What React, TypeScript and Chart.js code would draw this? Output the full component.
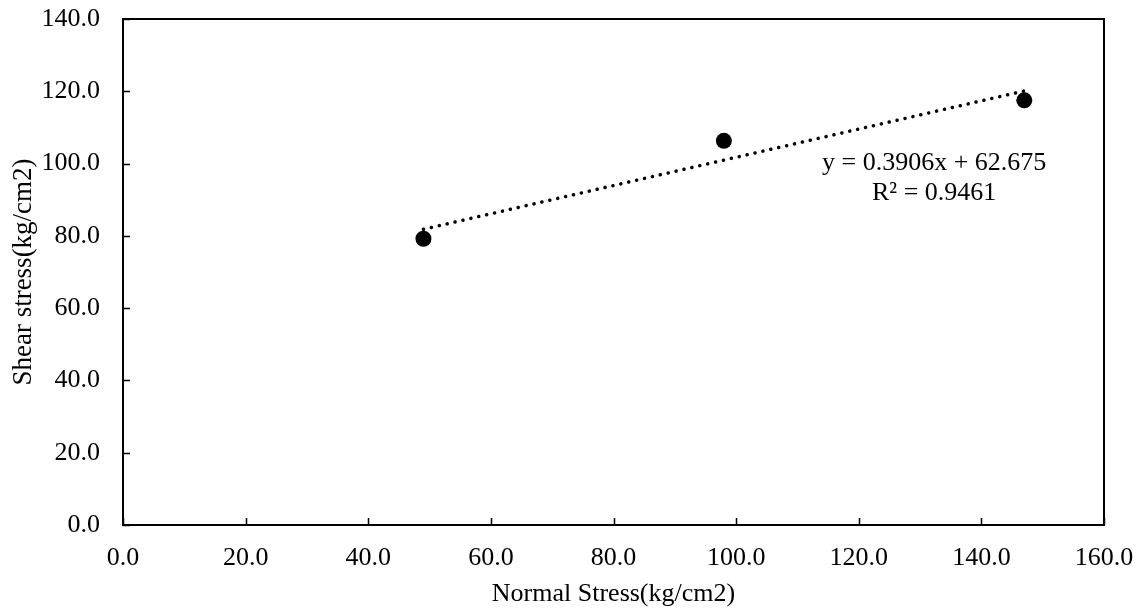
import React, { useEffect, useRef } from 'react';
import { Chart, registerables } from 'chart.js';

Chart.register(...registerables);

// Data
const normalStress = [49.0, 98.0, 147.0];
const shearStress = [79.2, 106.3, 117.5];

// Linear trendline shown in the chart
const trendSlope = 0.3906;
const trendIntercept = 62.675;
const trendXs = [49.0, 147.0];
const equationLines = ['y = 0.3906x + 62.675', 'R² = 0.9461'];

// Axis settings
const xMin = 0;
const xMax = 160;
const xStep = 20;
const yMin = 0;
const yMax = 140;
const yStep = 20;
const xTitle = 'Normal Stress(kg/cm2)';
const yTitle = 'Shear stress(kg/cm2)';

const FONT = '"Liberation Serif", "Times New Roman", serif';

const framePlugin = {
  id: 'frame',
  afterDraw(chart: any) {
    const { ctx, chartArea: a, scales } = chart;
    const x = scales.x;
    const y = scales.y;
    ctx.save();
    ctx.strokeStyle = '#000';
    ctx.lineWidth = 1.5;
    ctx.beginPath();
    x.ticks.forEach((t: any) => {
      const px = Math.round(x.getPixelForValue(t.value)) + 0.5;
      ctx.moveTo(px, a.bottom);
      ctx.lineTo(px, a.bottom - 7);
    });
    y.ticks.forEach((t: any) => {
      const py = Math.round(y.getPixelForValue(t.value)) + 0.5;
      ctx.moveTo(a.left, py);
      ctx.lineTo(a.left + 7, py);
    });
    ctx.stroke();
    ctx.lineWidth = 2;
    ctx.strokeRect(a.left, a.top, a.right - a.left, a.bottom - a.top);

    // trendline equation label
    ctx.fillStyle = '#000';
    ctx.font = `26px ${FONT}`;
    ctx.textAlign = 'center';
    ctx.textBaseline = 'alphabetic';
    const ex = x.getPixelForValue(132.3);
    const ey = y.getPixelForValue(98.2);
    equationLines.forEach((line, i) => {
      ctx.fillText(line, ex, ey + i * 30);
    });
    ctx.restore();
  },
};

export default function App() {
  const ref = useRef<HTMLCanvasElement | null>(null);

  useEffect(() => {
    document.body.style.margin = '0';
    const canvas = ref.current;
    if (!canvas) return;

    const points = normalStress.map((v, i) => ({ x: v, y: shearStress[i] }));
    const trend = trendXs.map((v) => ({ x: v, y: trendSlope * v + trendIntercept }));

    const chart = new Chart(canvas, {
      type: 'scatter',
      data: {
        datasets: [
          {
            label: 'Shear stress',
            data: points,
            backgroundColor: '#000',
            borderColor: '#000',
            pointRadius: 8,
            pointHoverRadius: 8,
            borderWidth: 0,
          },
          {
            label: 'Linear trend',
            data: trend,
            showLine: true,
            pointRadius: 0,
            borderColor: '#000',
            borderWidth: 3.5,
            borderDash: [0.1, 8],
            borderCapStyle: 'round',
            fill: false,
          },
        ],
      },
      options: {
        responsive: false,
        animation: false,
        layout: { padding: { top: 19, right: 42, left: 0, bottom: 0 } },
        plugins: {
          legend: { display: false },
          tooltip: { enabled: false },
        },
        scales: {
          x: {
            type: 'linear',
            min: xMin,
            max: xMax,
            grid: { display: false, drawTicks: false },
            border: { display: false },
            ticks: {
              stepSize: xStep,
              color: '#000',
              padding: 18,
              font: { family: FONT, size: 26 },
              callback: (v: any) => Number(v).toFixed(1),
              maxRotation: 0,
            },
            title: {
              display: true,
              text: xTitle,
              color: '#000',
              font: { family: FONT, size: 26 },
              padding: { top: 0, bottom: 1 },
            },
            afterFit: (s: any) => {
              s.height = 86;
              s.paddingLeft = 0;
              s.paddingRight = 0;
            },
          },
          y: {
            type: 'linear',
            min: yMin,
            max: yMax,
            grid: { display: false, drawTicks: false },
            border: { display: false },
            ticks: {
              stepSize: yStep,
              color: '#000',
              padding: 23,
              font: { family: FONT, size: 26 },
              callback: (v: any) => Number(v).toFixed(1),
            },
            title: {
              display: true,
              text: yTitle,
              color: '#000',
              font: { family: FONT, size: 27 },
              padding: { top: 8, bottom: 0 },
            },
            afterFit: (s: any) => {
              s.width = 123;
              s.paddingTop = 0;
              s.paddingBottom = 0;
            },
          },
        },
      },
      plugins: [framePlugin],
    });

    return () => chart.destroy();
  }, []);

  return (
    <div style={{ position: 'absolute', left: 0, top: 0, width: 1146, height: 611 }}>
      <canvas ref={ref} width={1146} height={611} />
    </div>
  );
}
